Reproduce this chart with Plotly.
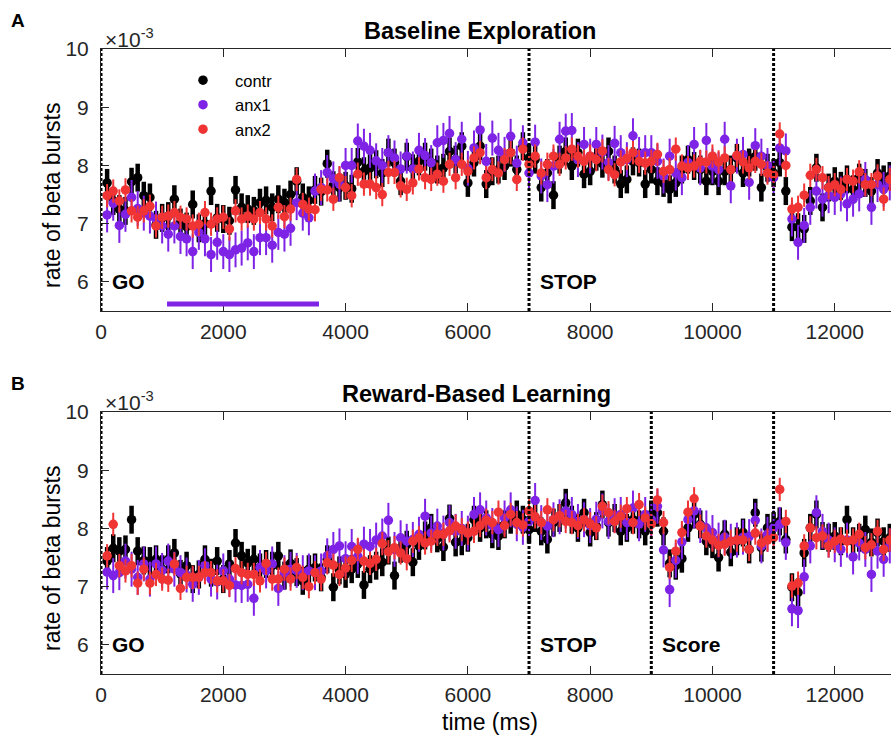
import plotly.graph_objects as go

# time axis: bins every 100 ms after GO
time_ms = list(range(100, 13000, 100))

# ---- Baseline Exploration ----
base_contr = [
    7.70, 7.39, 7.25, 7.22, 7.72, 7.79, 7.48, 7.45, 6.98, 7.10,
    7.13, 7.42, 7.02, 6.95, 7.33, 6.92, 7.00, 7.56, 7.10, 7.08,
    7.05, 7.58, 7.28, 7.25, 7.22, 7.36, 7.40, 7.28, 7.42, 7.36,
    7.50, 7.73, 7.45, 7.40, 7.58, 7.55, 8.03, 7.66, 7.62, 7.65,
    7.60, 8.06, 7.90, 7.96, 8.02, 7.87, 8.22, 8.05, 7.73, 8.15,
    7.95, 8.07, 8.15, 8.05, 7.93, 7.96, 8.24, 8.10, 8.33, 7.70,
    8.05, 8.33, 7.68, 7.90, 7.93, 7.99, 8.22, 7.93, 8.33, 8.13,
    8.10, 7.62, 7.87, 7.49, 8.10, 8.24, 7.99, 8.22, 7.85, 7.90,
    8.15, 8.03, 8.24, 7.93, 7.68, 7.76, 8.07, 8.05, 7.68, 7.93,
    7.73, 7.70, 7.59, 7.70, 7.93, 8.10, 7.99, 7.93, 7.73, 7.90,
    7.73, 7.90, 7.93, 8.13, 7.87, 8.05, 8.15, 7.62, 7.96, 7.87,
    8.05, 7.56, 6.94, 6.94, 6.91, 7.39, 7.96, 7.28, 7.62, 7.73,
    7.65, 7.76, 7.59, 7.79, 7.70, 7.56, 7.87, 7.76, 7.82,
]
base_anx1 = [
    7.15, 7.35, 6.97, 7.16, 7.45, 7.26, 7.18, 7.13, 7.08, 6.96,
    6.82, 6.96, 6.78, 6.74, 6.52, 6.85, 6.74, 6.47, 6.68, 6.52,
    6.47, 6.55, 6.58, 6.67, 6.52, 6.76, 6.76, 6.63, 6.85, 6.82,
    6.92, 7.36, 7.18, 7.10, 7.56, 7.62, 7.88, 7.77, 7.68, 8.00,
    8.00, 8.42, 8.33, 8.26, 8.08, 8.00, 8.22, 8.13, 7.94, 8.16,
    7.94, 8.26, 8.17, 8.05, 8.39, 8.43, 8.55, 8.10, 8.45, 7.95,
    8.30, 8.61, 8.07, 8.47, 8.26, 8.19, 8.50, 8.04, 8.39, 7.87,
    8.40, 7.82, 7.67, 7.99, 8.45, 8.59, 8.60, 8.10, 8.36, 8.16,
    8.36, 8.23, 8.05, 8.38, 8.22, 8.10, 8.51, 8.19, 8.22, 8.22,
    8.07, 7.82, 8.16, 7.87, 7.79, 8.05, 8.36, 7.96, 8.43, 7.99,
    7.93, 8.45, 7.65, 8.16, 8.19, 7.71, 8.34, 8.16, 8.00, 7.79,
    8.30, 8.25, 7.08, 6.68, 6.97, 7.28, 7.56, 7.42, 7.48, 7.45,
    7.51, 7.34, 7.42, 7.51, 7.76, 7.28, 7.67, 7.59, 7.70,
]
base_anx2 = [
    7.48, 7.56, 7.39, 7.58, 7.22, 7.11, 7.22, 7.30, 6.96, 7.11,
    7.13, 7.19, 7.11, 7.08, 6.96, 6.99, 7.19, 6.99, 7.08, 7.11,
    6.91, 7.22, 7.08, 7.13, 7.08, 7.19, 7.08, 6.96, 7.28, 7.12,
    7.25, 7.76, 7.33, 7.25, 7.24, 7.59, 7.58, 7.42, 7.79, 7.62,
    7.48, 7.85, 7.68, 7.68, 7.62, 7.50, 7.88, 7.88, 7.65, 7.59,
    7.70, 7.94, 7.79, 7.76, 7.85, 7.73, 8.02, 7.79, 8.02, 7.90,
    8.13, 8.22, 7.79, 7.93, 7.87, 8.10, 8.22, 7.76, 8.28, 8.02,
    8.16, 7.87, 8.02, 8.16, 8.02, 8.13, 8.28, 8.16, 8.07, 8.16,
    8.10, 8.25, 7.93, 7.84, 8.06, 8.12, 8.22, 8.07, 8.04, 8.07,
    8.19, 7.90, 7.93, 8.28, 7.99, 7.96, 7.99, 8.07, 8.06, 8.16,
    8.06, 8.13, 7.93, 8.17, 8.06, 7.96, 8.07, 8.02, 7.87, 7.84,
    8.54, 8.00, 7.25, 7.28, 7.49, 7.83, 7.93, 7.79, 7.62, 7.67,
    7.59, 7.76, 7.73, 7.89, 7.67, 7.67, 7.82, 7.42, 7.76,
]

# ---- Reward-Based Learning ----
reward_contr = [
    7.44, 7.66, 7.61, 7.64, 8.15, 7.61, 7.45, 7.44, 7.47, 7.30,
    7.47, 7.58, 7.22, 7.36, 7.13, 7.21, 7.47, 7.24, 7.44, 7.13,
    7.39, 7.75, 7.53, 7.41, 7.47, 7.33, 7.39, 7.36, 7.53, 7.19,
    7.40, 7.25, 7.10, 7.30, 7.33, 7.16, 7.47, 6.99, 7.28, 7.22,
    7.30, 7.39, 7.03, 7.30, 7.36, 7.42, 7.62, 7.19, 7.65, 7.72,
    7.42, 7.70, 7.88, 8.01, 7.83, 7.68, 8.17, 7.76, 7.78, 7.84,
    8.15, 8.01, 8.07, 7.90, 7.87, 8.07, 8.15, 8.24, 8.15, 7.98,
    8.18, 7.95, 7.81, 8.10, 8.18, 8.44, 8.15, 8.01, 8.27, 7.93,
    8.04, 8.41, 8.10, 8.18, 7.95, 8.01, 8.15, 8.07, 7.95, 8.24,
    8.27, 7.95, 7.40, 7.36, 7.48, 8.01, 8.24, 8.07, 7.78, 7.73,
    7.50, 7.90, 7.59, 7.78, 7.93, 7.64, 8.27, 7.67, 8.01, 8.04,
    8.12, 7.81, 6.99, 6.90, 7.58, 8.01, 8.24, 7.87, 7.84, 7.87,
    7.78, 8.15, 7.78, 7.84, 7.98, 7.76, 7.93, 7.78, 7.84,
]
reward_anx1 = [
    7.25, 7.19, 7.24, 7.44, 7.30, 7.16, 7.39, 7.13, 7.39, 7.28,
    7.44, 7.30, 7.24, 7.20, 7.04, 7.16, 7.36, 7.13, 7.08, 7.27,
    7.13, 7.03, 7.02, 7.04, 6.80, 7.33, 7.27, 7.39, 6.97, 7.24,
    7.30, 7.28, 7.24, 7.27, 7.24, 7.27, 7.53, 7.64, 7.70, 7.48,
    7.69, 7.52, 7.73, 7.69, 7.80, 7.87, 8.14, 7.64, 7.84, 7.78,
    7.81, 7.90, 8.21, 7.92, 8.04, 7.92, 8.10, 7.95, 8.00, 7.92,
    8.24, 8.32, 8.18, 8.05, 7.98, 8.18, 8.32, 8.08, 8.02, 8.12,
    8.48, 8.10, 8.04, 8.15, 8.20, 8.30, 8.24, 8.12, 8.15, 8.05,
    8.16, 8.30, 8.12, 8.22, 8.24, 8.10, 8.35, 8.08, 8.24, 8.15,
    8.38, 7.63, 6.95, 7.45, 7.77, 8.15, 8.30, 8.05, 8.01, 7.93,
    7.80, 7.85, 7.78, 7.80, 7.85, 7.86, 8.14, 7.70, 7.90, 8.01,
    8.07, 7.76, 6.62, 6.59, 7.17, 7.70, 8.27, 7.95, 7.80, 7.72,
    7.64, 7.80, 7.51, 7.75, 7.64, 7.21, 7.61, 7.47, 7.70,
]
reward_anx2 = [
    7.53, 8.07, 7.36, 7.27, 7.36, 7.06, 7.30, 7.06, 7.21, 7.13,
    7.11, 7.39, 6.97, 7.16, 7.16, 7.16, 7.24, 7.24, 7.10, 7.10,
    7.02, 7.31, 7.24, 7.21, 7.21, 7.10, 7.40, 7.13, 7.13, 7.30,
    7.13, 7.33, 7.16, 7.00, 7.24, 7.13, 7.41, 7.37, 7.21, 7.32,
    7.45, 7.64, 7.44, 7.40, 7.47, 7.74, 7.60, 7.67, 7.58, 7.48,
    7.78, 7.84, 7.75, 7.78, 7.90, 7.90, 7.96, 8.04, 7.98, 7.92,
    7.95, 8.05, 8.14, 8.10, 8.28, 8.05, 8.24, 8.10, 8.06, 8.30,
    8.20, 8.10, 8.32, 8.15, 8.22, 8.12, 8.10, 8.05, 8.15, 8.08,
    8.01, 8.38, 8.27, 8.12, 8.21, 8.34, 8.10, 8.41, 8.18, 8.08,
    8.49, 8.10, 7.33, 7.61, 7.93, 8.28, 8.51, 8.04, 7.87, 7.80,
    7.71, 7.73, 7.78, 7.80, 7.80, 7.64, 7.92, 7.75, 7.80, 7.84,
    8.67, 8.12, 7.01, 7.06, 7.70, 8.01, 7.84, 7.87, 7.70, 7.78,
    7.82, 7.78, 7.80, 7.90, 7.67, 7.72, 7.95, 7.64, 7.80,
]

# standard error of each group (same scale as the rates, x10^-3)
sem = {"contr": 0.24, "anx1": 0.30, "anx2": 0.20}

groups = ["contr", "anx1", "anx2"]
colors = {"contr": "#000000", "anx1": "rgb(126,34,230)", "anx2": "rgb(240,52,52)"}
bar_width = {"contr": 4.5, "anx1": 2, "anx2": 2}

panels = [
    ("Baseline Exploration", {"contr": base_contr, "anx1": base_anx1, "anx2": base_anx2},
     [0, 7000, 11000], [(0, "GO"), (7000, "STOP")]),
    ("Reward-Based Learning", {"contr": reward_contr, "anx1": reward_anx1, "anx2": reward_anx2},
     [0, 7000, 9000, 11000], [(0, "GO"), (7000, "STOP"), (9000, "Score")]),
]

# window where anx1 differs from the others in the baseline block
sig_window = [1080, 3565]
sig_level = 5.62

x_ticks = [0, 2000, 4000, 6000, 8000, 10000, 12000]
x_ticktext = ["0", "2000", "4000", "6000", "8000", "10000", "12000"]
y_ticks = [6, 7, 8, 9, 10]
y_range = [5.5, 10]
x_range = [0, 12920]

FONT = "Liberation Sans, Arial, sans-serif"
AXC = "#262626"

W, H = 891, 736
ML, MR, MT, MB = 101, 0, 49, 62
domains = [[0.5808, 1.0], [0.0, 0.4192]]

fig = go.Figure()

for i, (title, data, events, labels) in enumerate(panels):
    xa = "x" if i == 0 else "x2"
    ya = "y" if i == 0 else "y2"
    for g in groups:
        fig.add_trace(go.Scatter(
            x=time_ms, y=data[g], mode="markers", name=g,
            xaxis=xa, yaxis=ya, showlegend=(i == 0),
            marker=dict(color=colors[g], size=9.5, line=dict(width=0)),
            error_y=dict(type="constant", value=sem[g], color=colors[g],
                         thickness=bar_width[g], width=0),
        ))
    # event markers
    for ev in events:
        fig.add_shape(type="line", xref=xa, yref=f"{ya} domain", x0=ev, x1=ev, y0=0, y1=1,
                      line=dict(color="black", width=3, dash="3px,2px"), layer="above")
    for ev, txt in labels:
        fig.add_annotation(xref=xa, yref=ya, x=ev, y=6.0, text=f"<b>{txt}</b>",
                           showarrow=False, xanchor="left", yanchor="middle", xshift=9,
                           font=dict(family=FONT, size=21, color="black"))

fig.add_shape(type="line", xref="x", yref="y", x0=sig_window[0], x1=sig_window[1],
              y0=sig_level, y1=sig_level, line=dict(color=colors["anx1"], width=5))

axis_common = dict(
    showline=True, linecolor=AXC, linewidth=1, ticks="inside", ticklen=8,
    tickcolor=AXC, tickfont=dict(family=FONT, size=21, color="#262626"),
    showgrid=False, zeroline=False,
)

fig.update_layout(
    xaxis=dict(domain=[0, 1], range=x_range, tickvals=x_ticks, ticktext=x_ticktext,
               anchor="y", mirror="ticks", ticklabelstandoff=2, **axis_common),
    yaxis=dict(domain=domains[0], range=y_range, tickvals=y_ticks, anchor="x",
               ticklabelstandoff=7, **axis_common),
    xaxis2=dict(domain=[0, 1], range=x_range, tickvals=x_ticks, ticktext=x_ticktext,
                anchor="y2", mirror="ticks", ticklabelstandoff=2, **axis_common),
    yaxis2=dict(domain=domains[1], range=y_range, tickvals=y_ticks, anchor="x2",
                ticklabelstandoff=7, **axis_common),
    # right-hand tick marks of each box
    yaxis3=dict(domain=domains[0], range=y_range, tickvals=y_ticks, overlaying="y",
                side="right", anchor="x", showline=False, showticklabels=False,
                ticks="inside", ticklen=4, tickcolor=AXC, showgrid=False, zeroline=False),
    yaxis4=dict(domain=domains[1], range=y_range, tickvals=y_ticks, overlaying="y2",
                side="right", anchor="x2", showline=False, showticklabels=False,
                ticks="inside", ticklen=4, tickcolor=AXC, showgrid=False, zeroline=False),
)


def px_x(px):
    return (px - ML) / (W - ML - MR)


def px_y(py):
    return (H - MB - py) / (H - MT - MB)


texts = [
    dict(x=px_x(480), y=px_y(31), text="<b>Baseline Exploration</b>", size=23.5),
    dict(x=px_x(476), y=px_y(394), text="<b>Reward-Based Learning</b>", size=23.5),
    dict(x=px_x(490), y=px_y(722), text="time (ms)", size=23),
]
for t in texts:
    fig.add_annotation(xref="paper", yref="paper", x=t["x"], y=t["y"], text=t["text"],
                       showarrow=False, xanchor="center", yanchor="middle",
                       font=dict(family=FONT, size=t["size"], color="black"))

for yc in (196, 559):
    fig.add_annotation(xref="paper", yref="paper", x=px_x(52), y=px_y(yc),
                       text="rate of beta bursts", textangle=-90, showarrow=False,
                       xanchor="center", yanchor="middle",
                       font=dict(family=FONT, size=23, color="black"))

for yc in (38, 401):
    fig.add_annotation(xref="paper", yref="paper", x=px_x(103), y=px_y(yc),
                       text="\u00d710<sup>-3</sup>", showarrow=False,
                       xanchor="left", yanchor="middle",
                       font=dict(family=FONT, size=21, color="#262626"))

for lab, yc in (("A", 20), ("B", 383)):
    fig.add_annotation(xref="paper", yref="paper", x=px_x(18), y=px_y(yc),
                       text=f"<b>{lab}</b>", showarrow=False,
                       xanchor="center", yanchor="middle",
                       font=dict(family=FONT, size=19, color="black"))

fig.update_layout(
    width=W, height=H,
    margin=dict(l=ML, r=MR, t=MT, b=MB),
    paper_bgcolor="white", plot_bgcolor="white",
    legend=dict(x=px_x(171), y=px_y(63), xanchor="left", yanchor="top",
                bgcolor="rgba(0,0,0,0)", borderwidth=0, itemwidth=54,
                font=dict(family=FONT, size=16.5, color="black"),
                tracegroupgap=0),
    showlegend=True,
)

fig.write_html("out.html")
